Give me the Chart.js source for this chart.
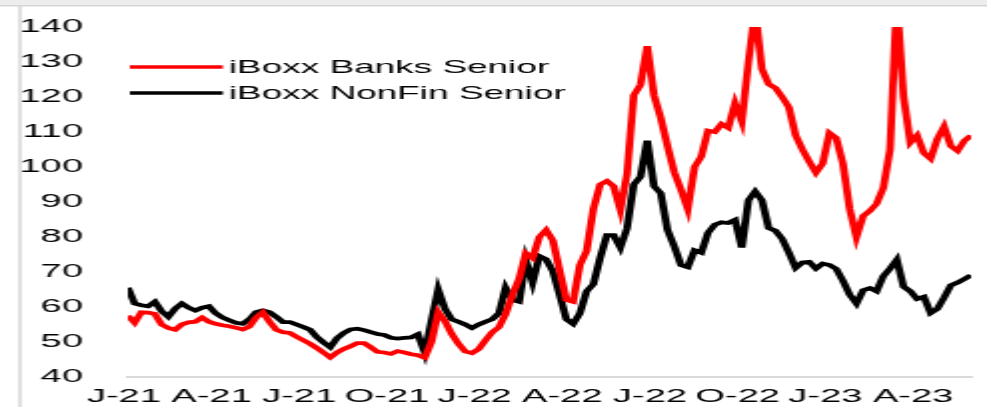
<!DOCTYPE html>
<html>
<head>
<meta charset="utf-8">
<script src="https://cdn.jsdelivr.net/npm/chart.js@4"></script>
<style>
  html, body { margin: 0; padding: 0; background: #fff; overflow: hidden; width: 987px; height: 407px; }
  #wrap { position: absolute; left: 0; top: 0; width: 494px; height: 407px; transform: scaleX(1.998); transform-origin: 0 0; }
  canvas { display: block; }
</style>
</head>
<body>
<div id="wrap"><canvas id="c" width="494" height="407"></canvas></div>
<script>
// Weekly observations, first week of Jan 2021 to end of Jun 2023
const firstWeek = '2021-01-04';
const weekCount = 126;
const tickLabels = ['J-21','A-21','J-21','O-21','J-22','A-22','J-22','O-22','J-23','A-23'];
const tickEvery = 13;
const seriesNames = ['iBoxx Banks Senior', 'iBoxx NonFin Senior'];

const banksSenior = [
  57.5, 55.5, 58.5, 58.4, 58, 55, 54, 53.5, 55, 55.6,
  55.8, 57, 55.8, 55.2, 54.8, 54.5, 54.1, 53.6, 54.4, 57,
  58.5, 55.8, 53.5, 52.8, 52.6, 51.5, 50.5, 49.5, 48.3, 47,
  45.6, 47, 48, 48.8, 49.7, 49.7, 48.5, 47.2, 47, 46.6,
  47.4, 47, 46.5, 46.2, 45.5, 50, 58.5, 56, 52.3, 49.5,
  47.3, 46.8, 48, 50.5, 52.8, 54.2, 58, 63.5, 68, 75.4,
  74, 80, 82, 79, 70.5, 62, 61.5, 72, 76, 88,
  95, 96, 94.5, 87.8, 98, 120.5, 123.5, 134.5, 120.5, 114,
  106, 98.5, 93.5, 88, 100, 103, 110.4, 110, 112.3, 111.2,
  118.2, 113, 130, 145, 128, 123.7, 122.6, 120, 117, 109,
  105, 101.6, 98.4, 101, 109.7, 108.3, 101, 88, 80, 86,
  87.5, 89.5, 94, 105, 148, 120, 107, 109, 104, 102.4,
  108, 111.5, 106, 104.6, 107.5, 109
];
const nonFinSenior = [
  65.5, 61, 60.5, 60.2, 61.5, 58.8, 57.2, 59.5, 61, 59.8,
  59, 59.8, 60.2, 58.2, 57, 56.2, 55.5, 55.2, 56.5, 58.5,
  59, 58.5, 57.2, 55.7, 55.7, 55, 54.3, 53.5, 51.4, 49.9,
  48.5, 51.1, 52.6, 53.6, 53.8, 53.4, 52.8, 52.3, 52, 51.2,
  51, 51.2, 51.3, 52.2, 47, 56, 65, 59.5, 56.5, 55.8,
  55, 54, 55, 55.8, 56.5, 58.2, 65.5, 62, 61.5, 73.4,
  67, 74.5, 73.6, 70.2, 63.5, 56.5, 55.2, 58.2, 64.5, 66.5,
  74, 80.5, 80.5, 77, 82.5, 95, 97.2, 107.5, 94.5, 92.5,
  82, 77.3, 72, 71.4, 76.2, 75.5, 81.2, 83.5, 84.2, 84,
  84.9, 77, 90.5, 93, 90.5, 82.6, 81.8, 79.5, 75.5, 71.2,
  72.7, 72.9, 71, 72.4, 72, 70.9, 67.5, 63.5, 61, 64.8,
  65.4, 64.5, 68.8, 71, 73.5, 65.8, 64.5, 62.3, 62.9, 58.3,
  59.5, 62.7, 66.2, 67, 68, 69.1
];

const categories = [];
{
  const d0 = new Date(firstWeek + 'T00:00:00Z');
  for (let i = 0; i < weekCount; i++) {
    const d = new Date(d0.getTime() + i * 7 * 86400000);
    categories.push(d.toISOString().slice(0, 10));
  }
}

const FONT = '"Liberation Sans", Arial, sans-serif';

const framePlugin = {
  id: 'frame',
  beforeDraw(chart) {
    const ctx = chart.ctx;
    ctx.save();
    ctx.fillStyle = '#ededed';
    ctx.fillRect(0, 0, chart.width, 5);
    ctx.strokeStyle = '#d6d6d6';
    ctx.lineWidth = 1.5;
    ctx.beginPath();
    ctx.moveTo(0, 5.75); ctx.lineTo(chart.width, 5.75);
    ctx.moveTo(10, 5.75); ctx.lineTo(10, chart.height);
    ctx.stroke();
    ctx.restore();
  }
};

const legendPlugin = {
  id: 'insideLegend',
  afterDraw(chart) {
    const ctx = chart.ctx;
    ctx.save();
    const rows = [67, 93];
    chart.data.datasets.forEach((ds, k) => {
      const y = rows[k];
      ctx.strokeStyle = ds.borderColor;
      ctx.lineWidth = 3.6;
      ctx.beginPath();
      ctx.moveTo(65, y); ctx.lineTo(111.5, y);
      ctx.stroke();
      ctx.fillStyle = '#000';
      ctx.font = '18.5px ' + FONT;
      ctx.textBaseline = 'middle';
      ctx.textAlign = 'left';
      ctx.fillText(ds.label, 114.5, y + 0.5);
    });
    ctx.restore();
  }
};

new Chart(document.getElementById('c'), {
  type: 'line',
  data: {
    labels: categories,
    datasets: [
      { label: seriesNames[0], data: banksSenior, borderColor: '#ff0000', borderWidth: 3.8, pointRadius: 0, tension: 0, clip: 0 },
      { label: seriesNames[1], data: nonFinSenior, borderColor: '#000000', borderWidth: 3.8, pointRadius: 0, tension: 0, clip: 0 }
    ]
  },
  options: {
    responsive: false,
    animation: false,
    devicePixelRatio: 1,
    layout: { padding: { top: 27, right: 5.5, left: 0, bottom: 0 } },
    plugins: { legend: { display: false }, tooltip: { enabled: false } },
    scales: {
      x: {
        type: 'category',
        offset: false,
        grid: { display: false, drawTicks: false },
        border: { display: true, color: '#d9d9d9', width: 2 },
        ticks: {
          autoSkip: false, maxRotation: 0, minRotation: 0,
          padding: 8, labelOffset: -2,
          color: '#000', font: { family: FONT, size: 19 },
          callback: (v, i) => (i % tickEvery === 0 ? (tickLabels[i / tickEvery] || '') : '')
        },
        afterFit: (s) => { s.height = 30; }
      },
      y: {
        min: 40, max: 140,
        grid: { display: false, drawTicks: true, tickLength: 22.5 },
        border: { display: false },
        ticks: { stepSize: 10, padding: 0, color: '#000', font: { family: FONT, size: 19 } },
        afterFit: (s) => { s.width = 64; }
      }
    }
  },
  plugins: [framePlugin, legendPlugin]
});
</script>
</body>
</html>
